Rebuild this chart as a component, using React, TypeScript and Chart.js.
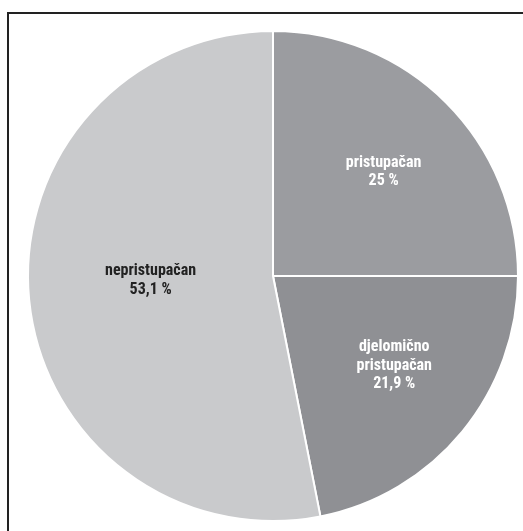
import React, { useEffect, useRef } from "react";
import { Chart, registerables } from "chart.js";

Chart.register(...registerables);

const categories = ["pristupačan", "djelomično pristupačan", "nepristupačan"];
const labelLines = [["pristupačan"], ["djelomično", "pristupačan"], ["nepristupačan"]];
const values = [25, 21.9, 53.1];
const valueTexts = ["25 %", "21,9 %", "53,1 %"];
const colors = ["#9b9ca0", "#8f9094", "#c9cacc"];
const textColors = ["#ffffff", "#ffffff", "#222222"];
const labelRadius = [0.62, 0.616, 0.5];
const labelAngleShift = [0.03, -0.05, 0.06];

const labelPlugin = {
  id: "sliceLabels",
  afterDatasetsDraw(chart: any) {
    const ctx = chart.ctx;
    const meta = chart.getDatasetMeta(0);
    ctx.save();
    ctx.font = "bold 16px 'Liberation Sans Narrow', 'Roboto Condensed', 'Arial Narrow', sans-serif";
    ctx.textAlign = "center";
    ctx.textBaseline = "middle";
    meta.data.forEach((arc: any, i: number) => {
      const p = arc.getProps(["x", "y", "startAngle", "endAngle", "outerRadius"], true);
      const mid = (p.startAngle + p.endAngle) / 2 + labelAngleShift[i];
      const r = p.outerRadius * labelRadius[i];
      const cx = p.x + Math.cos(mid) * r;
      const cy = p.y + Math.sin(mid) * r;
      const lines = [...labelLines[i], valueTexts[i]];
      const lh = 18.5;
      const y0 = cy - ((lines.length - 1) * lh) / 2;
      ctx.fillStyle = textColors[i];
      lines.forEach((t, k) => ctx.fillText(t, cx, y0 + k * lh));
    });
    ctx.restore();
  },
};

export default function App() {
  const ref = useRef<HTMLCanvasElement>(null);
  useEffect(() => {
    if (!ref.current) return;
    const chart = new Chart(ref.current, {
      type: "pie",
      data: {
        labels: categories,
        datasets: [
          {
            data: values,
            backgroundColor: colors,
            borderColor: "#ffffff",
            borderWidth: 2,
          },
        ],
      },
      options: {
        responsive: false,
        animation: false,
        layout: { padding: { left: 27, top: 30, right: 4, bottom: 9 } },
        plugins: {
          legend: { display: false },
          tooltip: { enabled: false },
        },
      },
      plugins: [labelPlugin],
    });
    return () => chart.destroy();
  }, []);
  return (
    <div style={{ position: "absolute", left: 0, top: 0, width: 523, height: 531, background: "#fff" }}>
      <div
        style={{
          position: "absolute",
          left: 7,
          top: 12,
          width: 540,
          height: 540,
          borderTop: "2px solid #222",
          borderLeft: "2px solid #222",
          boxSizing: "border-box",
        }}
      />
      <canvas ref={ref} width={523} height={531} style={{ position: "absolute", left: 0, top: 0 }} />
    </div>
  );
}
